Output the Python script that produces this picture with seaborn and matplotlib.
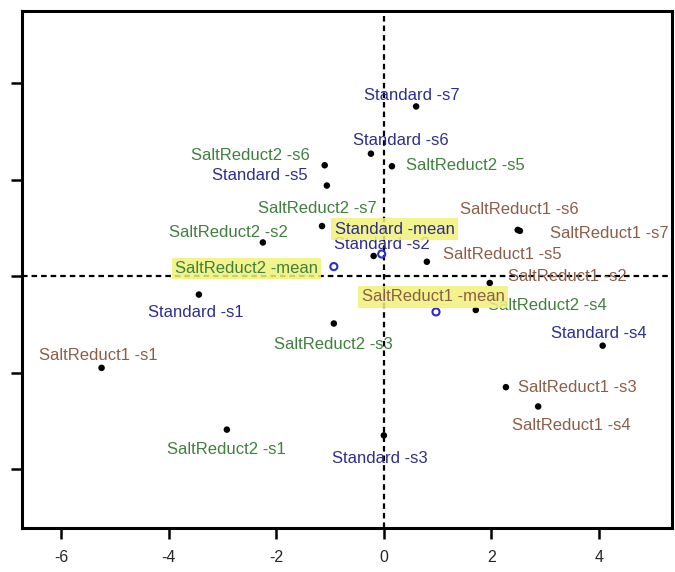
import matplotlib
matplotlib.use('Agg')
import matplotlib.pyplot as plt
import seaborn as sns
import pandas as pd

# Coordinates of the products per assessor
standard_x = [-3.44, -0.19, 0.00, 4.07, -1.06, -0.24, 0.60]
standard_y = [-0.19, 0.21, -1.65, -0.72, 0.94, 1.27, 1.76]
salt1_x = [-5.25, 1.97, 2.27, 2.87, 0.80, 2.49, 2.53]
salt1_y = [-0.95, -0.07, -1.15, -1.35, 0.15, 0.48, 0.47]
salt2_x = [-2.92, -2.25, -0.93, 1.71, 0.15, -1.10, -1.15]
salt2_y = [-1.59, 0.35, -0.49, -0.35, 1.14, 1.15, 0.52]
assessors = ['s1', 's2', 's3', 's4', 's5', 's6', 's7']

products = ['Standard', 'SaltReduct1', 'SaltReduct2']
mean_x = [-0.04, 0.97, -0.93]
mean_y = [0.23, -0.37, 0.10]

x_ticks = [-6, -4, -2, 0, 2, 4]
y_ticks = [-2, -1, 0, 1, 2]

colors = {'Standard': '#2e2e8e', 'SaltReduct1': '#8c5e48', 'SaltReduct2': '#3f803f'}

# label placement: (dx, dy) in pixels, horizontal alignment
offsets = {
    'Standard -s1': (-3, -18, 'center'), 'Standard -s2': (8, 11, 'center'),
    'Standard -s3': (-4, -23, 'center'), 'Standard -s4': (-4, 12, 'center'),
    'Standard -s5': (-19, 10, 'right'), 'Standard -s6': (30, 13, 'center'),
    'Standard -s7': (-4, 11, 'center'),
    'SaltReduct1 -s1': (-3, 12, 'center'), 'SaltReduct1 -s2': (18, 6, 'left'),
    'SaltReduct1 -s3': (12, 0, 'left'), 'SaltReduct1 -s4': (33, -19, 'center'),
    'SaltReduct1 -s5': (16, 7, 'left'), 'SaltReduct1 -s6': (2, 20, 'center'),
    'SaltReduct1 -s7': (30, -3, 'left'),
    'SaltReduct2 -s1': (0, -20, 'center'), 'SaltReduct2 -s2': (-34, 10, 'center'),
    'SaltReduct2 -s3': (0, -21, 'center'), 'SaltReduct2 -s4': (12, 4, 'left'),
    'SaltReduct2 -s5': (14, 1, 'left'), 'SaltReduct2 -s6': (-15, 10, 'right'),
    'SaltReduct2 -s7': (-5, 18, 'center'),
    'Standard -mean': (13, 25, 'center'), 'SaltReduct1 -mean': (-3, 15, 'center'),
    'SaltReduct2 -mean': (-16, -2, 'right'),
}

rows = []
for prod, xs, ys in [('Standard', standard_x, standard_y),
                     ('SaltReduct1', salt1_x, salt1_y),
                     ('SaltReduct2', salt2_x, salt2_y)]:
    for a, x, y in zip(assessors, xs, ys):
        rows.append({'Product': prod, 'label': prod + ' -' + a, 'x': x, 'y': y})
df = pd.DataFrame(rows)
means = pd.DataFrame({'Product': products, 'x': mean_x, 'y': mean_y})
means['label'] = means['Product'] + ' -mean'

sns.set_style('white')
plt.rcParams['font.family'] = ['Liberation Sans', 'DejaVu Sans']

fig = plt.figure(figsize=(6.75, 5.72), dpi=100)
ax = fig.add_axes([0.0326, 0.0769, 0.963, 0.904])

ax.axhline(0, color='black', lw=1.6, ls=(0, (2.5, 1.8)), zorder=1)
ax.axvline(0, color='black', lw=1.6, ls=(0, (2.5, 1.8)), zorder=1)

sns.scatterplot(data=df, x='x', y='y', color='black', s=22, edgecolor='none',
                ax=ax, zorder=3)
sns.scatterplot(data=means, x='x', y='y', s=26, facecolor='none',
                edgecolor='#2b2bd0', linewidth=1.5, ax=ax, zorder=3)

for _, r in df.iterrows():
    dx, dy, ha = offsets[r['label']]
    ax.annotate(r['label'], (r['x'], r['y']), xytext=(dx, dy),
                textcoords='offset pixels', ha=ha, va='center', fontsize=12,
                color=colors[r['Product']], annotation_clip=False, zorder=4)

for _, r in means.iterrows():
    dx, dy, ha = offsets[r['label']]
    ax.annotate(r['label'], (r['x'], r['y']), xytext=(dx, dy),
                textcoords='offset pixels', ha=ha, va='center', fontsize=12,
                color=colors[r['Product']], zorder=5,
                bbox=dict(boxstyle='square,pad=0.2', fc='#f2f27a', ec='none', alpha=0.85))

ax.set_xlim(-6.73, 5.36)
ax.set_ylim(-2.61, 2.75)
ax.set_xticks(x_ticks)
ax.set_xticklabels([str(t) for t in x_ticks])
ax.set_yticks(y_ticks)
ax.set_yticklabels([])
ax.tick_params(axis='both', direction='out', length=8, width=1.8, color='black',
               labelsize=11.5, pad=8, bottom=True, left=True)
ax.set_xlabel('')
ax.set_ylabel('')
for sp in ax.spines.values():
    sp.set_color('black')
    sp.set_linewidth(2.2)

fig.savefig('out.png', dpi=100)
